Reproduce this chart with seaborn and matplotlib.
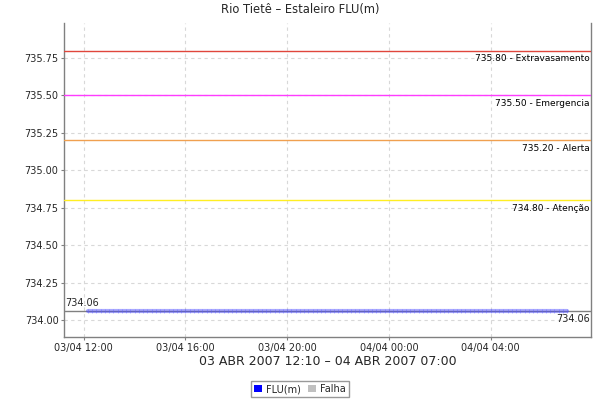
import matplotlib
matplotlib.use("Agg")
import matplotlib.pyplot as plt
import matplotlib.dates as mdates
from matplotlib.patches import Patch
import pandas as pd
import seaborn as sns

# ---- data ----
title = "Rio Tietê – Estaleiro FLU(m)"
xlabel = "03 ABR 2007 12:10 – 04 ABR 2007 07:00"
start = "2007-04-03 12:10"
end = "2007-04-04 07:00"
flu_level = 734.06
threshold_values = [735.80, 735.50, 735.20, 734.80]
threshold_names = ["Extravasamento", "Emergencia", "Alerta", "Atenção"]
threshold_colors = ["#e0463c", "#ff3cff", "#f0a050", "#ffee22"]
legend_labels = ["FLU(m)", "Falha"]
legend_colors = ["#0000ff", "#c0c0c0"]

times = pd.date_range(start, end, freq="10min")
df = pd.DataFrame({"time": times, "FLU(m)": [flu_level] * len(times)})

sns.set_style("white")
plt.rcParams["font.family"] = ["DejaVu Sans"]

fig = plt.figure(figsize=(6, 4), dpi=100)
ax = fig.add_axes([64 / 600, 1 - 337 / 400, (591 - 64) / 600, (337 - 23) / 400])

ax.grid(True, color="#d8d8d8", linestyle=(0, (3, 3)), linewidth=0.8)
ax.set_axisbelow(True)

sns.lineplot(data=df, x="time", y="FLU(m)", ax=ax, color="#4040ff", alpha=0.45,
             linewidth=3, marker="|", markersize=3, markeredgecolor="#6060ff",
             markeredgewidth=0.6, legend=False)

for v, name, c in zip(threshold_values, threshold_names, threshold_colors):
    ax.axhline(v, color=c, linewidth=1.0, zorder=3)
    ax.text(0.998, v - 0.025, f"{v:.2f} - {name}", transform=ax.get_yaxis_transform(),
            ha="right", va="top", fontsize=6.5, color="black")

ax.axhline(flu_level, color="#808080", linewidth=1.0, zorder=1)
ax.text(0.002, flu_level + 0.02, f"{flu_level:.2f}", transform=ax.get_yaxis_transform(),
        ha="left", va="bottom", fontsize=7)
ax.text(0.998, flu_level - 0.02, f"{flu_level:.2f}", transform=ax.get_yaxis_transform(),
        ha="right", va="top", fontsize=7)

ax.set_ylim(733.886, 735.984)
ax.set_yticks([734.00, 734.25, 734.50, 734.75, 735.00, 735.25, 735.50, 735.75])
ax.yaxis.set_major_formatter(matplotlib.ticker.FormatStrFormatter("%.2f"))
ax.set_xlim(pd.Timestamp("2007-04-03 11:13:30"), pd.Timestamp("2007-04-04 07:56:30"))
ax.xaxis.set_major_locator(mdates.HourLocator(byhour=[0, 4, 12, 16, 20]))
ax.xaxis.set_major_formatter(mdates.DateFormatter("%d/%m %H:%M"))
ax.tick_params(axis="both", labelsize=7, length=2, color="#808080", pad=2, direction="out")
ax.tick_params(axis="x", bottom=True)
ax.tick_params(axis="y", left=True)

for s in ["left", "bottom", "right"]:
    ax.spines[s].set_color("#808080")
    ax.spines[s].set_linewidth(1.0)
ax.spines["top"].set_visible(False)

ax.set_ylabel("")
ax.set_xlabel(xlabel, fontsize=9, labelpad=2)
fig.text(0.5, 1 - 10 / 400, title, ha="center", va="center", fontsize=8.3)

handles = [Patch(facecolor=c, edgecolor="none") for c in legend_colors]
leg = fig.legend(handles, legend_labels, loc="center", bbox_to_anchor=(0.5, 1 - 389 / 400),
                 ncol=2, fontsize=7, frameon=True, fancybox=False, handlelength=0.8,
                 handleheight=0.8, handletextpad=0.4, columnspacing=0.8,
                 borderpad=0.3, borderaxespad=0)
leg.get_frame().set_edgecolor("#808080")
leg.get_frame().set_linewidth(1.0)

fig.savefig("out.png", dpi=100)
